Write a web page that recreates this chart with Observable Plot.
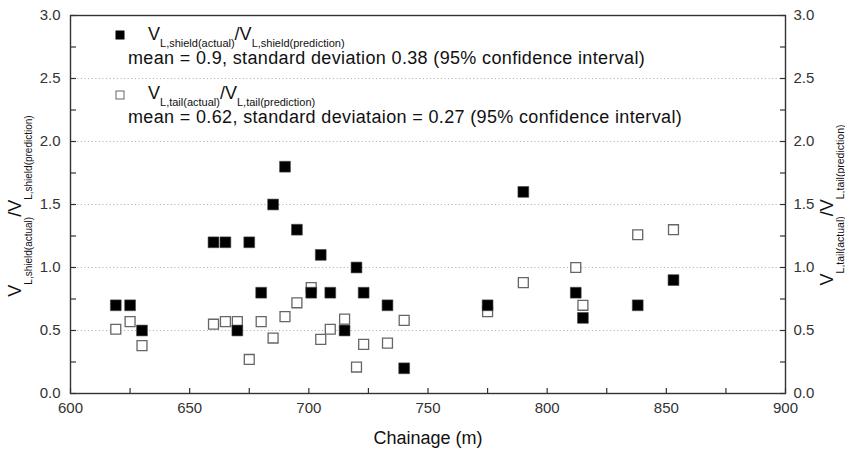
<!DOCTYPE html>
<html><head><meta charset="utf-8">
<script src="https://cdn.jsdelivr.net/npm/d3@7"></script>
<script src="https://cdn.jsdelivr.net/npm/@observablehq/plot@0.6"></script>
<style>
body{margin:0;background:#fff;}
svg text{font-family:"Liberation Sans",Arial,sans-serif;}
</style></head><body><div id="chart"></div>
<script>
// ---- data ----
const chainage = [619,625,630,660,665,670,675,680,685,690,695,701,705,709,715,720,723,733,740,775,790,812,815,838,853];
const shieldRatio = [0.7,0.7,0.5,1.2,1.2,0.5,1.2,0.8,1.5,1.8,1.3,0.8,1.1,0.8,0.5,1.0,0.8,0.7,0.2,0.7,1.6,0.8,0.6,0.7,0.9];
const tailRatio = [0.51,0.57,0.38,0.55,0.57,0.57,0.27,0.57,0.44,0.61,0.72,0.84,0.43,0.51,0.59,0.21,0.39,0.40,0.58,0.65,0.88,1.0,0.70,1.26,1.30];
const xTicks = [600,650,700,750,800,850,900];
const xMinorTicks = [600,625,650,675,700,725,750,775,800,825,850,875,900];
const yTicks = [0,0.5,1,1.5,2,2.5,3];
const yMinorTicks = [0,0.25,0.5,0.75,1,1.25,1.5,1.75,2,2.25,2.5,2.75,3];
const gridValues = [0.5,1,1.5,2,2.5];
const xTitle = "Chainage (m)";
const leftTitle = [["V",0],["L,shield(actual)",1],["/V",0],["L,shield(prediction)",1]];
const rightTitle = [["V",0],["L,tail(actual)",1],["/V",0],["L,tail(prediction)",1]];
const legendLabels = [
  {filled:true, name:[["V",0],["L,shield(actual)",1],["/V",0],["L,shield(prediction)",1]],
   stats:"mean = 0.9, standard deviation 0.38 (95% confidence interval)"},
  {filled:false, name:[["V",0],["L,tail(actual)",1],["/V",0],["L,tail(prediction)",1]],
   stats:"mean = 0.62, standard deviataion = 0.27 (95% confidence interval)"}
];

const shield = chainage.map((x,i)=>({x, y: shieldRatio[i]}));
const tail = chainage.map((x,i)=>({x, y: tailRatio[i]}));

const ink = "#333";
const TICK = 5.5;
// inward tick glyphs used as dot symbols
const tickSym = (dx, dy) => ({draw(ctx) { ctx.moveTo(0, 0); ctx.lineTo(dx, dy); }});

const svg = Plot.plot({
  width: 845, height: 450,
  marginLeft: 70, marginRight: 60, marginTop: 15, marginBottom: 57,
  style: {fontFamily: "Liberation Sans, Arial, sans-serif", fontSize: "15px", color: ink, background: "#fff"},
  x: {domain: [600, 900]},
  y: {domain: [0, 3]},
  marks: [
    Plot.gridY({ticks: gridValues, stroke: "#b5b5b5", strokeOpacity: 1, strokeDasharray: "1.2,2.4"}),
    Plot.axisX({ticks: xTicks, anchor: "bottom", tickSize: 0, tickPadding: 9, stroke: "none", fill: ink, label: null, tickFormat: d => String(d)}),
    Plot.axisY({ticks: yTicks, anchor: "left", tickSize: 0, tickPadding: 10, stroke: "none", fill: ink, label: null, tickFormat: d => d.toFixed(1)}),
    Plot.axisY({ticks: yTicks, anchor: "right", tickSize: 0, tickPadding: 8, stroke: "none", fill: ink, label: null, tickFormat: d => d.toFixed(1)}),
    Plot.dot(xMinorTicks, {x: d => d, frameAnchor: "bottom", symbol: tickSym(0, -TICK), fill: "none", stroke: ink, strokeWidth: 1.2}),
    Plot.dot(yMinorTicks, {y: d => d, frameAnchor: "left", symbol: tickSym(TICK, 0), fill: "none", stroke: ink, strokeWidth: 1.2}),
    Plot.dot(yMinorTicks, {y: d => d, frameAnchor: "right", symbol: tickSym(-TICK, 0), fill: "none", stroke: ink, strokeWidth: 1.2}),
    Plot.frame({stroke: ink, strokeWidth: 1.4}),
    Plot.dot(tail, {x: "x", y: "y", symbol: "square", r: 5.6, fill: "white", stroke: "#666", strokeWidth: 1.3}),
    Plot.dot(shield, {x: "x", y: "y", symbol: "square", r: 6.1, fill: "#000", stroke: "#444", strokeWidth: 0.6})
  ]
});
document.getElementById("chart").appendChild(svg);

// ---- rich text (subscripts) ----
const root = d3.select(svg);
function rich(parts, {x, y, rotate = 0, anchor = "start", big = 18, small = 10, sub = 8}) {
  const t = root.append("text")
    .attr("transform", `translate(${x},${y}) rotate(${rotate})`)
    .attr("text-anchor", anchor).attr("fill", "#111");
  let level = 0;
  for (const [s, isSub] of parts) {
    const dy = (isSub ? sub : 0) - level;
    level = isSub ? sub : 0;
    t.append("tspan").attr("dy", dy).attr("font-size", isSub ? small : big).text(s);
  }
  return t;
}
root.append("text").attr("x", 428).attr("y", 444).attr("text-anchor", "middle")
  .attr("font-size", 18).attr("fill", "#111").text(xTitle);
rich(leftTitle, {x: 20.5, y: 206, rotate: -90, anchor: "middle", big: 18, small: 10, sub: 11});
rich(rightTitle, {x: 833, y: 205, rotate: -90, anchor: "middle", big: 18, small: 10.5, sub: 11});

const legendRows = [{my: 35, vy: 40, sy: 64}, {my: 95, vy: 99, sy: 123}];
legendLabels.forEach((item, i) => {
  const r = legendRows[i];
  root.append("rect").attr("x", 116).attr("y", r.my - 4).attr("width", 8).attr("height", 8)
    .attr("fill", item.filled ? "#000" : "#fff").attr("stroke", item.filled ? "#000" : "#666").attr("stroke-width", 1);
  rich(item.name, {x: 148, y: r.vy, anchor: "start", big: 18, small: 11, sub: 7});
  root.append("text").attr("x", 128).attr("y", r.sy).attr("font-size", 18).attr("text-anchor", "start")
    .attr("letter-spacing", 0.35).attr("fill", "#111").text(item.stats);
});
</script></body></html>
